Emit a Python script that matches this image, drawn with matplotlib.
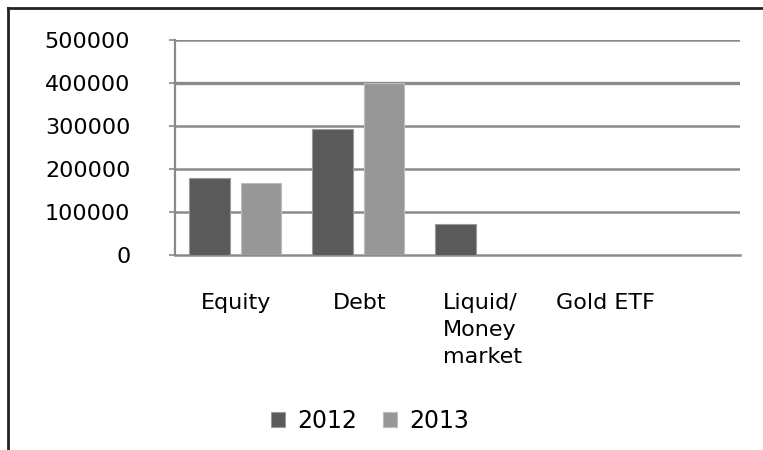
import matplotlib.pyplot as plt
import numpy as np

categories = ['Equity', 'Debt', 'Liquid/\nMoney\nmarket', 'Gold ETF']
vals_2012 = [179000, 293000, 72000, 0]
vals_2013 = [167000, 400000, 0, 0]
years = ['2012', '2013']

plt.rcParams['font.family'] = 'DejaVu Sans'

fig = plt.figure(figsize=(7.63, 4.5), dpi=100)
ax = fig.add_axes([0.229, 0.4333, 0.741, 0.4778])

x = np.arange(len(categories))
ax.bar(x - 0.22, vals_2012, width=0.33, color='#5a5a5a', edgecolor='#9a9a9a',
       linewidth=0.8, label=years[0], zorder=3)
ax.bar(x + 0.2, vals_2013, width=0.33, color='#979797', edgecolor='#bdbdbd',
       linewidth=0.8, label=years[1], zorder=3)

ax.set_xlim(-0.5, 4.09)
ax.set_ylim(0, 500000)
ax.set_yticks([0, 100000, 200000, 300000, 400000, 500000])
ax.set_yticklabels(['0', '100000', '200000', '300000', '400000', '500000'])
ax.set_xticks(x)
ax.set_xticklabels(categories, multialignment='left', va='top')

for yv in [100000, 200000, 300000, 400000, 500000]:
    ax.axhline(yv, color='#8a8a8a', lw=2.4 if yv == 400000 else 1.8, zorder=1)

ax.spines[['right', 'top']].set_visible(False)
ax.spines['left'].set_color('#8a8a8a')
ax.spines['left'].set_linewidth(1.6)
ax.spines['bottom'].set_color('#8a8a8a')
ax.spines['bottom'].set_linewidth(1.8)

ax.tick_params(axis='y', length=4, color='#8a8a8a', width=1.2, pad=28, labelsize=16)
ax.tick_params(axis='x', length=0, pad=27, labelsize=16)
for t in ax.get_xticklabels():
    t.set_linespacing(1.45)

ax.legend(loc='center', bbox_to_anchor=(370 / 763, 1 - 421 / 450),
          bbox_transform=fig.transFigure, ncol=2, frameon=False, fontsize=17,
          handlelength=0.6, handleheight=0.6, handletextpad=0.5, columnspacing=1.1)

# outer frame lines (top and left only, as in the screenshot)
fig.add_artist(plt.Line2D([8 / 763, 1], [1 - 8 / 450, 1 - 8 / 450],
                          transform=fig.transFigure, color='#222222', lw=2))
fig.add_artist(plt.Line2D([8 / 763, 8 / 763], [0, 1 - 8 / 450],
                          transform=fig.transFigure, color='#222222', lw=2))

fig.savefig('out.png', dpi=100)
